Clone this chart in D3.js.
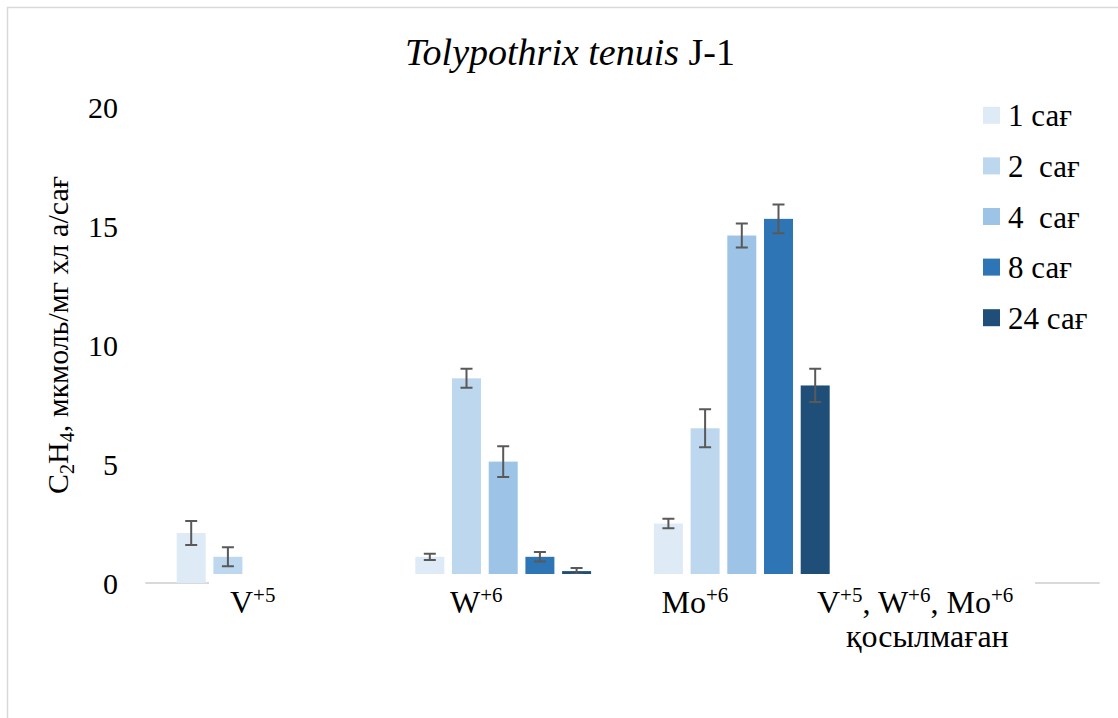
<!DOCTYPE html>
<html>
<head>
<meta charset="utf-8">
<script src="https://cdn.jsdelivr.net/npm/d3@7"></script>
<style>
  html, body { margin: 0; padding: 0; background: #fff; }
  svg { display: block; }
</style>
</head>
<body>
<svg id="chart" width="1118" height="718"></svg>
<script>
// Metal ions added to the culture
const categories = ["V", "W", "Mo", "none"];
// Incubation time (hours)
const series = ["1 сағ", "2  сағ", "4  сағ", "8 сағ", "24 сағ"];
// Ethylene production, µmol C2H4 / mg chl a / h, one array per incubation time
const h1  = [2.1, 1.1, 2.5, 0];
const h2  = [1.1, 8.6, 6.5, 0];
const h4  = [0,   5.1, 14.6, 0];
const h8  = [0,   1.1, 15.3, 0];
const h24 = [0,   0.5, 8.3, 0];
// Standard errors for the same bars
const e1  = [0.5, 0.13, 0.2, 0];
const e2  = [0.4, 0.4, 0.8, 0];
const e4  = [0,   0.65, 0.5, 0];
const e8  = [0,   0.2, 0.6, 0];
const e24 = [0,   0.13, 0.7, 0];
const yTicks = [0, 5, 10, 15, 20];
const colors = ["#deebf7", "#bdd7ee", "#9dc3e6", "#2e75b6", "#1f4e79"];

const values = [h1, h2, h4, h8, h24];
const errors = [e1, e2, e4, e8, e24];

const FONT = "'Liberation Serif', Tinos, 'Times New Roman', 'DejaVu Serif', serif";

const svg = d3.select("#chart")
  .attr("font-family", FONT)
  .style("font-family", FONT);

// Chart frame
svg.append("path")
  .attr("d", "M7.5,718V7.5H1118")
  .attr("fill", "none")
  .attr("stroke", "#d9d9d9")
  .attr("stroke-width", 1.5);

// Title
const title = svg.append("text")
  .attr("x", 570).attr("y", 65)
  .attr("text-anchor", "middle")
  .attr("font-size", 38);
title.append("tspan").attr("font-style", "italic").text("Tolypothrix tenuis");
title.append("tspan").text(" J-1");

// Scales
const x0 = d3.scaleBand().domain(categories).range([145.3, 1099.7]).padding(0);
const clusterFrac = 0.769;
const x1 = d3.scaleBand().domain(series)
  .range([0, x0.bandwidth() * clusterFrac])
  .paddingInner(0.21).paddingOuter(0.105);
const clusterOffset = x0.bandwidth() * (1 - clusterFrac) / 2;
const y = d3.scaleLinear().domain([0, 20]).range([583, 107]);

// Y tick labels
svg.append("g").selectAll("text")
  .data(yTicks).join("text")
  .attr("x", 118)
  .attr("y", d => y(d))
  .attr("dy", "0.35em")
  .attr("text-anchor", "end")
  .attr("font-size", 30)
  .text(d => d);

// Category axis line
svg.append("line")
  .attr("x1", x0.range()[0]).attr("x2", x0.range()[1])
  .attr("y1", y(0)).attr("y2", y(0))
  .attr("stroke", "#d9d9d9").attr("stroke-width", 2);

// Bars
const barData = [];
series.forEach((s, si) => {
  categories.forEach((c, ci) => {
    barData.push({ s, si, c, v: values[si][ci], e: errors[si][ci] });
  });
});
const barX = d => x0(d.c) + clusterOffset + x1(d.s);

svg.append("g").selectAll("rect")
  .data(barData.filter(d => d.v > 0)).join("rect")
  .attr("x", barX)
  .attr("width", x1.bandwidth())
  .attr("y", d => y(d.v))
  .attr("height", d => y(0) - y(d.v))
  .attr("fill", d => colors[d.si]);

// Error bars
const cap = 6;
const eg = svg.append("g").attr("stroke", "#595959").attr("stroke-width", 2).attr("fill", "none");
barData.filter(d => d.v > 0 && d.e > 0).forEach(d => {
  const cx = barX(d) + x1.bandwidth() / 2;
  const yt = y(d.v + d.e), yb = y(d.v - d.e);
  eg.append("path")
    .attr("d", `M${cx},${yt}V${yb}M${cx - cap},${yt}H${cx + cap}M${cx - cap},${yb}H${cx + cap}`);
});

// White label panel over the lower part of the plot
svg.append("rect")
  .attr("x", 209).attr("y", 574)
  .attr("width", 1035 - 209).attr("height", 90)
  .attr("fill", "#fff");

// Category labels (with oxidation-state superscripts)
const catLabels = [
  { x: 230, y: 612.5, parts: [["V"], ["+5", 1]] },
  { x: 450, y: 612.5, parts: [["W"], ["+6", 1]] },
  { x: 661.5, y: 612.5, parts: [["Mo"], ["+6", 1]] },
  { x: 817, y: 612.5, parts: [["V"], ["+5", 1], [", W"], ["+6", 1], [", Mo"], ["+6", 1]] },
  { x: 846, y: 647, parts: [["қосылмаған"]] }
];
catLabels.forEach(l => {
  const t = svg.append("text").attr("x", l.x).attr("y", l.y).attr("font-size", 32);
  let raised = false;
  l.parts.forEach(([txt, sup]) => {
    const ts = t.append("tspan").text(txt);
    if (sup) {
      ts.attr("font-size", 21);
      if (!raised) ts.attr("dy", -11);
      raised = true;
    } else if (raised) {
      ts.attr("dy", 11);
      raised = false;
    }
  });
});

// Y axis title
const yt = svg.append("text")
  .attr("transform", "translate(67.5,335) rotate(-90)")
  .attr("text-anchor", "middle")
  .attr("font-size", 30);
yt.append("tspan").text("C");
yt.append("tspan").attr("font-size", 20).attr("dy", 6).text("2");
yt.append("tspan").attr("dy", -6).text("H");
yt.append("tspan").attr("font-size", 20).attr("dy", 6).text("4");
yt.append("tspan").attr("dy", -6).text(", мкмоль/мг хл а/сағ");

// Legend
const legend = svg.append("g");
series.forEach((s, i) => {
  const cy = 115.3 + i * 50.6;
  legend.append("rect")
    .attr("x", 983).attr("y", cy - 8.5)
    .attr("width", 17).attr("height", 17)
    .attr("fill", colors[i]);
  legend.append("text")
    .attr("x", 1008).attr("y", cy + 11)
    .attr("font-size", 31)
    .attr("xml:space", "preserve")
    .style("white-space", "pre")
    .text(s);
});
</script>
</body>
</html>
